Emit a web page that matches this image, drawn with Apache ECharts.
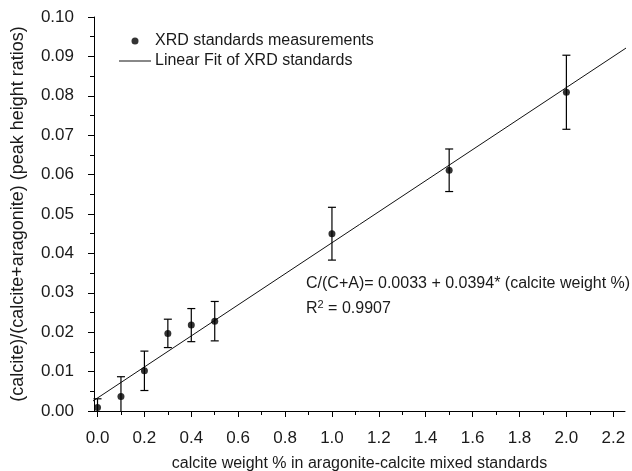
<!DOCTYPE html>
<html>
<head>
<meta charset="utf-8">
<script src="https://cdn.jsdelivr.net/npm/echarts@6/dist/echarts.min.js"></script>
<style>
html,body{margin:0;padding:0;background:#fff;}
#chart{width:632px;height:471px;}
</style>
</head>
<body>
<div id="chart"></div>
<script>
// Data
const xValues = [0.0, 0.1, 0.2, 0.3, 0.4, 0.5, 1.0, 1.5, 2.0];
const yValues = [0.0009, 0.0037, 0.0102, 0.0197, 0.0218, 0.0228, 0.0450, 0.0611, 0.0809];
const yErrors = [0.0022, 0.0050, 0.0050, 0.0036, 0.0042, 0.0050, 0.0067, 0.0054, 0.0094];
const fitIntercept = 0.0033;
const fitSlope = 0.0394;
const fitRange = [-0.025, 2.3];
const xMajorTicks = [0.0, 0.2, 0.4, 0.6, 0.8, 1.0, 1.2, 1.4, 1.6, 1.8, 2.0, 2.2];
const xMinorTicks = [0.1, 0.3, 0.5, 0.7, 0.9, 1.1, 1.3, 1.5, 1.7, 1.9, 2.1];
const legendNames = ['XRD standards measurements', 'Linear Fit of XRD standards'];
const equationText = 'C/(C+A)= 0.0033 + 0.0394* (calcite weight %)';
const r2Text = '0.9907';

const scatterData = xValues.map((x, i) => [x, yValues[i]]);
const errorData = xValues.map((x, i) => [x, yValues[i] - yErrors[i], yValues[i] + yErrors[i]]);
const fitData = fitRange.map(x => [x, fitIntercept + fitSlope * x]);

const FONT = 'Liberation Sans, Arial, sans-serif';
const TXT = '#1a1a1a';
const AX = '#000';

const chart = echarts.init(document.getElementById('chart'));
chart.setOption({
  animation: false,
  backgroundColor: '#fff',
  grid: {left: 94, right: 7, top: 17, bottom: 60, containLabel: false, outerBoundsMode: 'none'},
  legend: {
    orient: 'vertical',
    left: 114, top: 27,
    itemWidth: 32, itemHeight: 7, itemGap: 2,
    textStyle: {fontFamily: FONT, fontSize: 16, color: TXT, padding: [0,0,0,-1], lineHeight: 18},
    data: [
      {name: legendNames[0], icon: 'circle'},
      {name: legendNames[1], icon: 'path://M0,0H32V1H0Z'}
    ]
  },
  xAxis: [{
    type: 'value', min: -0.015, max: 2.25,
    position: 'bottom',
    name: 'calcite weight % in aragonite-calcite mixed standards',
    nameLocation: 'middle', nameGap: 45,
    nameTextStyle: {fontFamily: FONT, fontSize: 16, color: TXT},
    axisLine: {show: true, onZero: false, lineStyle: {color: AX, width: 1}},
    axisTick: {show: true, inside: false, length: 6, lineStyle: {color: AX}, customValues: xMajorTicks},
    axisLabel: {fontFamily: FONT, fontSize: 17, color: TXT, margin: 19, customValues: xMajorTicks,
      formatter: v => v.toFixed(1)},
    splitLine: {show: false}
  }, {
    type: 'value', min: -0.015, max: 2.25,
    position: 'bottom',
    axisLine: {show: false, onZero: false},
    axisTick: {show: true, inside: false, length: 4, lineStyle: {color: AX}, customValues: xMinorTicks},
    axisLabel: {show: false},
    splitLine: {show: false}
  }],
  yAxis: {
    type: 'value', min: 0, max: 0.1, interval: 0.01,
    name: '(calcite)/(calcite+aragonite) (peak height ratios)',
    nameLocation: 'middle', nameGap: 67,
    nameTextStyle: {fontFamily: FONT, fontSize: 18, color: TXT},
    axisLine: {show: true, onZero: false, lineStyle: {color: AX, width: 1}},
    axisTick: {show: true, inside: false, length: 6, lineStyle: {color: AX}},
    minorTick: {show: true, splitNumber: 2, length: 4, lineStyle: {color: AX}},
    axisLabel: {fontFamily: FONT, fontSize: 17, color: TXT, margin: 20, formatter: v => v.toFixed(2)},
    splitLine: {show: false}
  },
  series: [
    {
      name: legendNames[1], type: 'line', data: fitData, showSymbol: false, symbol: 'none',
      clip: false, lineStyle: {color: '#111', width: 1}, itemStyle: {color: '#111'}, z: 2
    },
    {
      name: 'errors', type: 'custom', data: errorData, clip: false, z: 3,
      renderItem: function (params, api) {
        const x = api.value(0);
        const lo = api.coord([x, Math.max(0, api.value(1))]);
        const hi = api.coord([x, api.value(2)]);
        const w = 4;
        const st = {stroke: '#000', lineWidth: 1.2};
        const ch = [{type: 'line', shape: {x1: hi[0], y1: hi[1], x2: lo[0], y2: lo[1]}, style: st},
                    {type: 'line', shape: {x1: hi[0]-w, y1: hi[1], x2: hi[0]+w, y2: hi[1]}, style: st}];
        if (api.value(1) > 0) ch.push({type: 'line', shape: {x1: lo[0]-w, y1: lo[1], x2: lo[0]+w, y2: lo[1]}, style: st});
        return {type: 'group', children: ch};
      }
    },
    {
      name: legendNames[0], type: 'scatter', data: scatterData, symbol: 'circle', symbolSize: 7,
      clip: false, itemStyle: {color: '#000'}, z: 4
    }
  ],
  graphic: [
    {type: 'text', left: 306, top: 276, style: {text: equationText, font: '16px ' + FONT, fill: TXT}},
    {type: 'text', left: 306, top: 299, style: {
      text: 'R{sup|2} = ' + r2Text,
      rich: {sup: {fontSize: 11, fontFamily: FONT, fill: TXT, verticalAlign: 'top', padding: [0,0,8,0]}},
      font: '16px ' + FONT, fill: TXT}}
  ]
});
</script>
</body>
</html>
